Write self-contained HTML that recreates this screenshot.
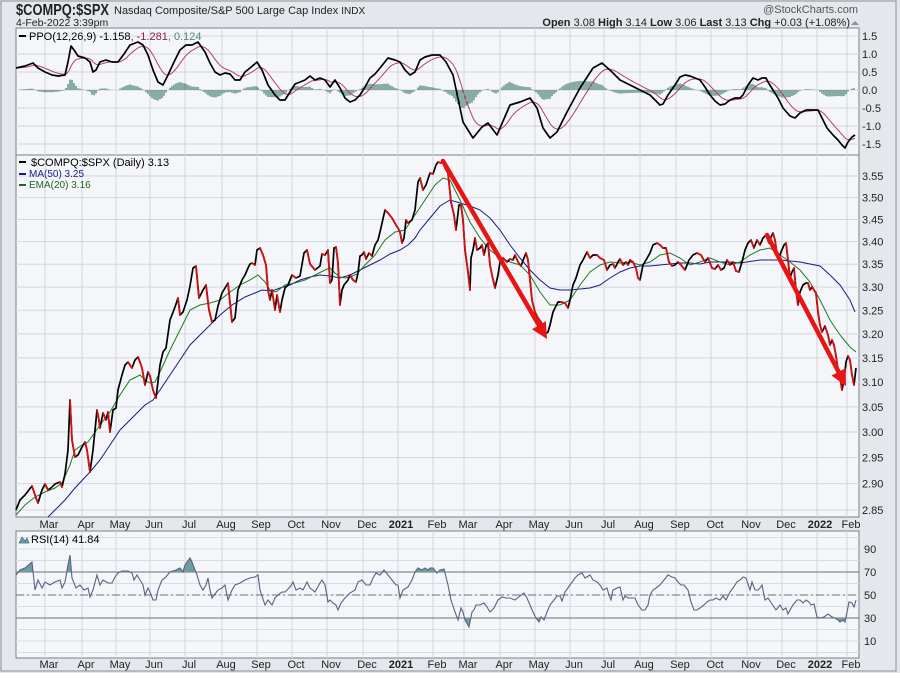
<!DOCTYPE html>
<html><head><meta charset="utf-8">
<style>
html,body{margin:0;padding:0;background:#fff;}
body{width:900px;height:673px;overflow:hidden;font-family:"Liberation Sans",sans-serif;}
svg text{font-family:"Liberation Sans",sans-serif;}
</style></head><body>
<svg id="s" width="900" height="673" viewBox="0 0 900 673" xmlns="http://www.w3.org/2000/svg">
<rect x="0" y="0" width="900" height="673" fill="#e2e5ea"/>
<rect x="1" y="1" width="895" height="670" fill="#e4e7ec" stroke="#8a8f98"/>
<rect x="16" y="28" width="843" height="127" fill="#f4f6fa" stroke="#7b7f86"/>
<rect x="16" y="155" width="843" height="362" fill="#f4f6fa" stroke="#7b7f86"/>
<rect x="16" y="531" width="843" height="127" fill="#f4f6fa" stroke="#7b7f86"/>
<g id="grid"></g>
<g id="series"></g>
<text x="16" y="15" font-size="16" font-weight="bold" fill="#222" textLength="93" lengthAdjust="spacingAndGlyphs">$COMPQ:$SPX</text>
<text x="114" y="14" font-size="11" fill="#222">Nasdaq Composite/S&amp;P 500 Large Cap Index <tspan font-size="10">INDX</tspan></text>
<text x="16" y="26" font-size="10.5" fill="#222">4-Feb-2022 3:39pm</text>
<text x="858" y="13" font-size="11" fill="#555" text-anchor="end">@StockCharts.com</text>
<text x="850" y="26" font-size="11" fill="#222" text-anchor="end"><tspan font-weight="bold">Open</tspan> 3.08  <tspan font-weight="bold">High</tspan> 3.14  <tspan font-weight="bold">Low</tspan> 3.06  <tspan font-weight="bold">Last</tspan> 3.13  <tspan font-weight="bold">Chg</tspan> +0.03 (+1.08%)</text>
<polygon points="851,25 859,25 855,21" fill="#8a8f98"/>
<rect x="19" y="35" width="7" height="2" fill="#000"/>
<text x="29" y="40" font-size="11" font-family="Liberation Mono" fill="#000">PPO(12,26,9) -1.158<tspan fill="#8a2040">, -1.281</tspan><tspan fill="#4a8a70">, 0.124</tspan></text>
<rect x="19" y="161" width="7" height="2" fill="#000"/>
<text x="31" y="166" font-size="11" font-family="Liberation Mono" fill="#000">$COMPQ:$SPX (Daily) 3.13</text>
<rect x="19" y="173" width="7" height="2" fill="#1a1a8a"/>
<text x="29" y="177" font-size="10" fill="#1a1a8a">MA(50) 3.25</text>
<rect x="19" y="184" width="7" height="2" fill="#1a6a1a"/>
<text x="29" y="188" font-size="10" fill="#1a6a1a">EMA(20) 3.16</text>
<polygon points="19,543 22,537 25,541 27,538 29,543" fill="#6a9a9a" stroke="#4a6a8a" stroke-width="0.7"/>
<text x="31" y="543" font-size="11" font-family="Liberation Mono" fill="#000">RSI(14) 41.84</text>
<g id="labels" font-size="11" fill="#222"></g>
</svg>
<script>
var NS="http://www.w3.org/2000/svg";
function el(p,t,a){var e=document.createElementNS(NS,t);for(var k in a)e.setAttribute(k,a[k]);p.appendChild(e);return e;}
var grid=document.getElementById('grid'),ser=document.getElementById('series'),lab=document.getElementById('labels');
var months=[["Mar",45],["Apr",82],["May",116],["Jun",150],["Jul",185],["Aug",222],["Sep",257],["Oct",292],["Nov",327],["Dec",363],["2021",398],["Feb",433],["Mar",464],["Apr",500],["May",535],["Jun",570],["Jul",604],["Aug",640],["Sep",676],["Oct",711],["Nov",747],["Dec",782],["2022",817],["Feb",847]];
months.forEach(function(m){
 [[28,155],[155,517],[531,658]].forEach(function(r){el(grid,'line',{x1:m[1],x2:m[1],y1:r[0],y2:r[1],stroke:'#d3d7de','stroke-width':1});});
 [528,668].forEach(function(y){var t=el(lab,'text',{x:m[1]+(m[0].length==4?3:4),y:y,'font-size':11,'text-anchor':'middle'});if(m[0].length==4)t.setAttribute('font-weight','bold');t.textContent=m[0];});
});
function py(v){return 176+1521*(Math.log(3.55)-Math.log(v));}
for(var i=0;i<=14;i++){var v=2.85+i*0.05;var y=py(v);
 el(grid,'line',{x1:16,x2:859,y1:y,y2:y,stroke:'#d3d7de'});
 var t=el(lab,'text',{x:862,y:y+4,'font-size':11});t.textContent=v.toFixed(2);}
function qy(v){return 90-v*36;}
for(var v=-1.5;v<=1.51;v+=0.5){var y=qy(v);el(grid,'line',{x1:16,x2:859,y1:y,y2:y,stroke:'#d3d7de'});
 var t=el(lab,'text',{x:862,y:y+4,'font-size':11});t.textContent=(v<-0.01?'-':'')+Math.abs(v).toFixed(1);}
function ry(v){return 549+(90-v)*23/20;}
for(var v=0;v<=100;v+=10){var y=ry(v);if(y>531&&y<658)el(grid,'line',{x1:16,x2:859,y1:y,y2:y,stroke:'#d8dce2'});}
[90,70,50,30,10].forEach(function(v){var t=el(lab,'text',{x:864,y:ry(v)+4,'font-size':11});t.textContent=v;});
el(grid,'line',{x1:16,x2:859,y1:ry(70),y2:ry(70),stroke:'#6a6e74'});
el(grid,'line',{x1:16,x2:859,y1:ry(30),y2:ry(30),stroke:'#6a6e74'});
el(grid,'line',{x1:16,x2:859,y1:ry(50),y2:ry(50),stroke:'#6a6e74','stroke-dasharray':'8,3,2,3'});

function P(a){var r=[];for(var i=0;i<a.length;i+=2)r.push([a[i],a[i+1]]);return r;}
function str(p){return p.map(function(q){return q[0]+','+q[1];}).join(' ');}
function interp(p,x){if(x<=p[0][0])return p[0][1];for(var i=1;i<p.length;i++){if(p[i][0]>=x){var a=p[i-1],b=p[i];return a[1]+(b[1]-a[1])*(x-a[0])/(b[0]-a[0]||1);}}return p[p.length-1][1];}

var ppo=P([16,68,25,66,33,63,38,68,45,72,52,75,58,76,65,75,68,62,71,46,74,50,78,56,85,58,90,62,93,72,96,70,100,62,106,60,112,62,118,62,124,54,130,45,138,42,143,45,148,55,153,70,158,82,163,85,168,75,174,62,180,50,186,45,192,45,198,42,205,52,210,63,215,72,220,75,225,73,230,74,235,80,240,80,245,72,250,68,257,62,262,70,268,85,275,95,280,100,285,100,290,92,295,84,300,82,305,80,310,76,315,80,320,78,325,80,330,87,335,80,340,88,345,98,350,102,355,100,360,95,365,87,370,78,375,74,380,68,388,58,395,60,400,62,405,70,410,75,415,72,420,60,425,57,432,55,440,55,446,62,453,75,463,122,473,138,482,127,488,123,497,135,510,105,520,102,530,98,537,108,543,128,550,138,557,132,567,112,580,88,593,68,602,63,612,72,620,80,630,85,640,90,650,95,655,100,660,105,663,104,668,95,675,85,680,77,685,75,690,76,695,78,700,80,705,87,710,95,715,101,720,105,725,104,730,100,735,98,740,98,743,95,748,85,753,78,758,80,762,78,766,78,768,82,773,90,778,98,783,108,790,116,795,118,800,113,806,110,812,110,818,110,822,118,827,128,833,135,838,140,842,145,845,148,848,142,852,137,855,135]);
var sig=[],s=null,hist='';
for(var x=16;x<=855;x++){var v=interp(ppo,x);s=(s===null)?v:s+(v-s)*0.1;sig.push([x,s.toFixed(1)]);
 if(x%2==0&&x>18){var d=(v-s)*0.6;hist+='M'+x+',90V'+(90+d).toFixed(1);}}
el(ser,'path',{d:hist,stroke:'#3f7d66','stroke-width':1.2,fill:'none'});
el(ser,'polyline',{points:str(sig),fill:'none',stroke:'#b0406a','stroke-width':1});
el(ser,'polyline',{points:str(ppo),fill:'none',stroke:'#000','stroke-width':1.7,'stroke-linejoin':'round'});

var ma=P([48,517,55,510,65,500,75,488,90,472,100,460,110,445,120,430,135,415,145,405,153,400,160,390,170,375,180,360,190,345,200,335,210,325,220,315,232,305,245,297,255,293,262,290,272,291,280,288,290,285,300,280,310,277,320,275,330,276,340,278,350,275,360,270,370,265,380,260,390,254,400,250,408,245,415,238,420,230,430,218,440,206,450,200,460,203,470,206,480,210,490,218,500,230,510,245,520,258,530,270,540,280,550,288,560,290,570,290,580,289,590,288,600,285,610,278,620,272,630,268,640,266,650,266,660,265,670,264,680,263,690,263,700,264,710,262,720,262,730,262,740,263,760,260,780,260,790,261,800,262,810,264,820,266,830,275,840,285,850,300,855,312]);
var ema=P([16,515,25,505,35,497,45,492,55,488,62,483,70,465,75,450,82,445,88,442,93,435,100,425,110,412,120,395,130,380,140,375,145,380,150,383,155,382,160,372,170,350,180,330,190,310,200,305,210,303,220,300,230,292,240,285,250,280,258,275,265,282,270,290,276,292,285,285,295,283,305,280,315,275,325,270,330,268,335,273,340,277,345,278,350,277,357,274,365,265,375,255,385,240,395,232,405,230,415,215,425,200,435,185,443,178,450,180,460,200,470,222,480,238,490,250,500,258,510,262,520,265,530,275,540,292,550,305,560,305,570,300,580,285,590,272,600,265,610,262,620,263,630,262,640,265,650,262,660,255,670,253,680,258,690,265,700,262,710,258,720,262,730,265,740,262,750,255,760,250,770,248,780,255,790,262,800,270,810,282,820,300,830,320,840,335,850,347,856,352]);
var pr=P([16,510,20,500,25,495,32,486,36,498,38,503,42,490,45,484,48,490,52,487,55,484,60,482,62,487,65,474,68,450,70,400,72,440,75,457,78,455,82,447,85,442,87,450,90,472,93,450,97,410,99,420,100,428,103,413,106,420,108,412,110,432,113,410,116,408,118,390,122,375,125,365,128,362,132,368,135,360,138,357,140,362,142,368,145,385,148,372,150,376,153,390,156,398,160,365,163,352,166,348,170,320,175,307,178,298,180,315,183,312,187,300,190,286,193,268,196,266,199,298,203,290,206,285,209,310,212,322,215,320,218,306,222,293,225,288,228,283,232,322,235,318,238,290,242,280,245,275,248,268,250,264,252,263,255,265,257,250,260,248,263,255,266,265,268,290,270,300,272,290,275,310,277,295,280,312,282,300,285,288,288,285,292,275,296,278,300,276,304,253,307,250,310,264,315,270,320,266,322,254,325,255,328,250,330,283,332,280,334,248,336,247,338,263,340,305,342,290,344,285,348,280,350,275,353,280,356,282,358,273,360,256,362,255,364,252,366,259,369,253,372,256,375,245,378,240,380,232,385,210,388,213,392,218,396,225,398,228,400,232,402,243,404,238,406,220,408,223,412,220,415,210,418,182,420,178,423,190,426,185,430,173,433,174,436,165,438,162,441,163,443,162,445,168,448,173,451,202,454,215,456,230,459,205,461,205,463,220,465,250,468,272,470,290,471,258,473,250,475,238,477,250,480,248,482,245,484,255,486,246,488,243,490,265,492,275,495,288,498,275,500,262,503,258,507,262,510,259,513,260,515,255,518,262,521,266,524,258,526,253,528,260,532,300,535,312,538,318,541,322,544,335,548,332,550,325,553,312,555,308,558,302,561,302,565,303,568,308,570,300,573,285,576,278,580,265,583,260,587,252,590,258,593,255,597,255,600,258,604,260,607,270,610,265,613,264,615,268,618,262,620,259,623,265,626,262,628,265,630,260,633,262,636,268,638,278,640,280,643,265,646,260,650,253,653,245,657,243,660,245,663,248,666,248,669,262,672,266,675,265,678,262,681,265,685,270,689,260,693,255,697,253,701,255,705,262,708,258,712,268,715,269,718,265,721,270,724,268,727,260,730,265,733,262,736,271,739,272,742,262,745,250,748,243,751,240,754,248,757,240,760,245,763,238,766,235,769,243,771,237,773,233,775,240,777,255,779,258,781,252,784,245,786,243,788,260,790,278,792,272,794,268,796,290,798,305,800,292,803,285,806,283,808,283,810,290,812,287,814,290,816,293,818,312,820,325,822,332,825,326,828,335,830,345,832,340,834,345,836,356,838,370,840,378,842,390,844,380,846,362,848,356,850,360,852,375,854,385,856,368]);
el(ser,'polyline',{points:str(ma),fill:'none',stroke:'#1a1a8a','stroke-width':1});
el(ser,'polyline',{points:str(ema),fill:'none',stroke:'#1e7a1e','stroke-width':1});
el(ser,'polyline',{points:str(pr),fill:'none',stroke:'#000','stroke-width':1.7,'stroke-linejoin':'round'});
var red='';
for(var i=1;i<pr.length;i++){if(pr[i][1]>pr[i-1][1])red+='M'+pr[i-1][0]+','+pr[i-1][1]+'L'+pr[i][0]+','+pr[i][1];}
el(ser,'path',{d:red,fill:'none',stroke:'#d41010','stroke-width':1.8,'stroke-linecap':'round'});
function arrow(x1,y1,x2,y2){var dx=x2-x1,dy=y2-y1,L=Math.sqrt(dx*dx+dy*dy),ux=dx/L,uy=dy/L,h=16,w=8;
 var bx=x2-ux*h,by=y2-uy*h;
 el(ser,'line',{x1:x1,y1:y1,x2:bx,y2:by,stroke:'#e81515','stroke-width':4.5,'stroke-linecap':'round'});
 el(ser,'polygon',{points:x2+','+y2+' '+(bx-uy*w)+','+(by+ux*w)+' '+(bx+uy*w)+','+(by-ux*w),fill:'#e81515'});}
arrow(443,161,547,339);arrow(767,235,846,386);

var rsi=P([16,575,20,570,25,568,32,562,35,590,38,580,42,588,45,582,50,585,55,582,60,580,62,588,65,582,68,565,70,555,72,578,76,588,80,585,84,590,88,588,90,597,93,590,97,575,100,585,103,580,108,583,112,583,115,577,118,573,122,571,128,571,132,573,134,580,137,575,140,580,143,585,145,595,148,588,150,592,153,600,156,600,158,590,162,580,165,578,170,572,176,570,180,568,183,572,185,565,190,558,192,562,197,575,200,585,203,590,206,585,208,578,210,590,212,598,215,594,218,590,222,588,225,585,228,600,232,590,235,585,240,583,245,580,250,578,255,577,258,575,260,590,262,596,265,605,268,600,272,605,275,598,278,595,282,592,285,592,290,587,293,582,296,590,300,588,303,590,307,582,310,588,315,592,320,583,322,580,325,585,328,602,330,600,333,603,336,605,338,610,341,603,345,598,350,593,355,590,358,582,362,580,366,585,370,585,373,578,376,573,380,575,384,570,388,575,392,580,396,585,398,585,400,598,403,590,408,587,412,580,415,572,418,568,422,570,425,568,428,570,430,568,433,568,437,573,440,570,444,569,448,585,451,600,455,612,458,620,461,608,463,612,465,620,469,627,472,612,474,610,476,605,480,605,484,603,487,607,490,612,494,608,498,600,502,597,506,598,510,598,515,600,520,596,524,593,527,598,530,605,533,612,536,618,539,622,541,617,544,620,547,612,550,605,554,600,557,596,560,596,562,601,565,592,570,585,575,578,578,575,582,573,585,578,590,575,593,580,597,582,600,585,603,590,607,588,609,595,611,600,613,590,617,588,620,587,623,600,625,596,628,598,632,598,635,598,638,605,642,610,645,610,648,605,650,595,653,590,656,588,660,585,664,580,668,575,672,577,675,578,678,582,681,585,684,585,688,590,691,602,694,610,697,610,700,608,704,605,707,602,710,600,713,600,716,598,720,600,723,596,726,600,730,592,733,588,737,582,740,580,743,577,746,578,750,590,752,582,755,590,758,590,760,588,762,585,765,600,768,598,772,604,776,610,780,605,783,610,786,608,788,614,790,610,793,605,797,600,800,600,803,603,806,600,809,602,811,605,814,604,817,617,820,618,824,617,828,614,832,617,835,618,838,620,840,622,843,620,845,622,847,612,849,602,852,603,854,607,856,600]);
var defs=el(document.getElementById('s'),'defs',{});
var c1=el(defs,'clipPath',{id:'c1'});el(c1,'rect',{x:16,y:531,width:843,height:ry(70)-531});
var c2=el(defs,'clipPath',{id:'c2'});el(c2,'rect',{x:16,y:ry(30),width:843,height:658-ry(30)});
el(ser,'polygon',{points:str(rsi)+' 856,'+ry(70)+' 16,'+ry(70),fill:'#6f9c9c','clip-path':'url(#c1)'});
el(ser,'polygon',{points:str(rsi)+' 856,'+ry(30)+' 16,'+ry(30),fill:'#6f9c9c','clip-path':'url(#c2)'});
el(ser,'polyline',{points:str(rsi),fill:'none',stroke:'#5a6280','stroke-width':1.1});
</script>
</body></html>
